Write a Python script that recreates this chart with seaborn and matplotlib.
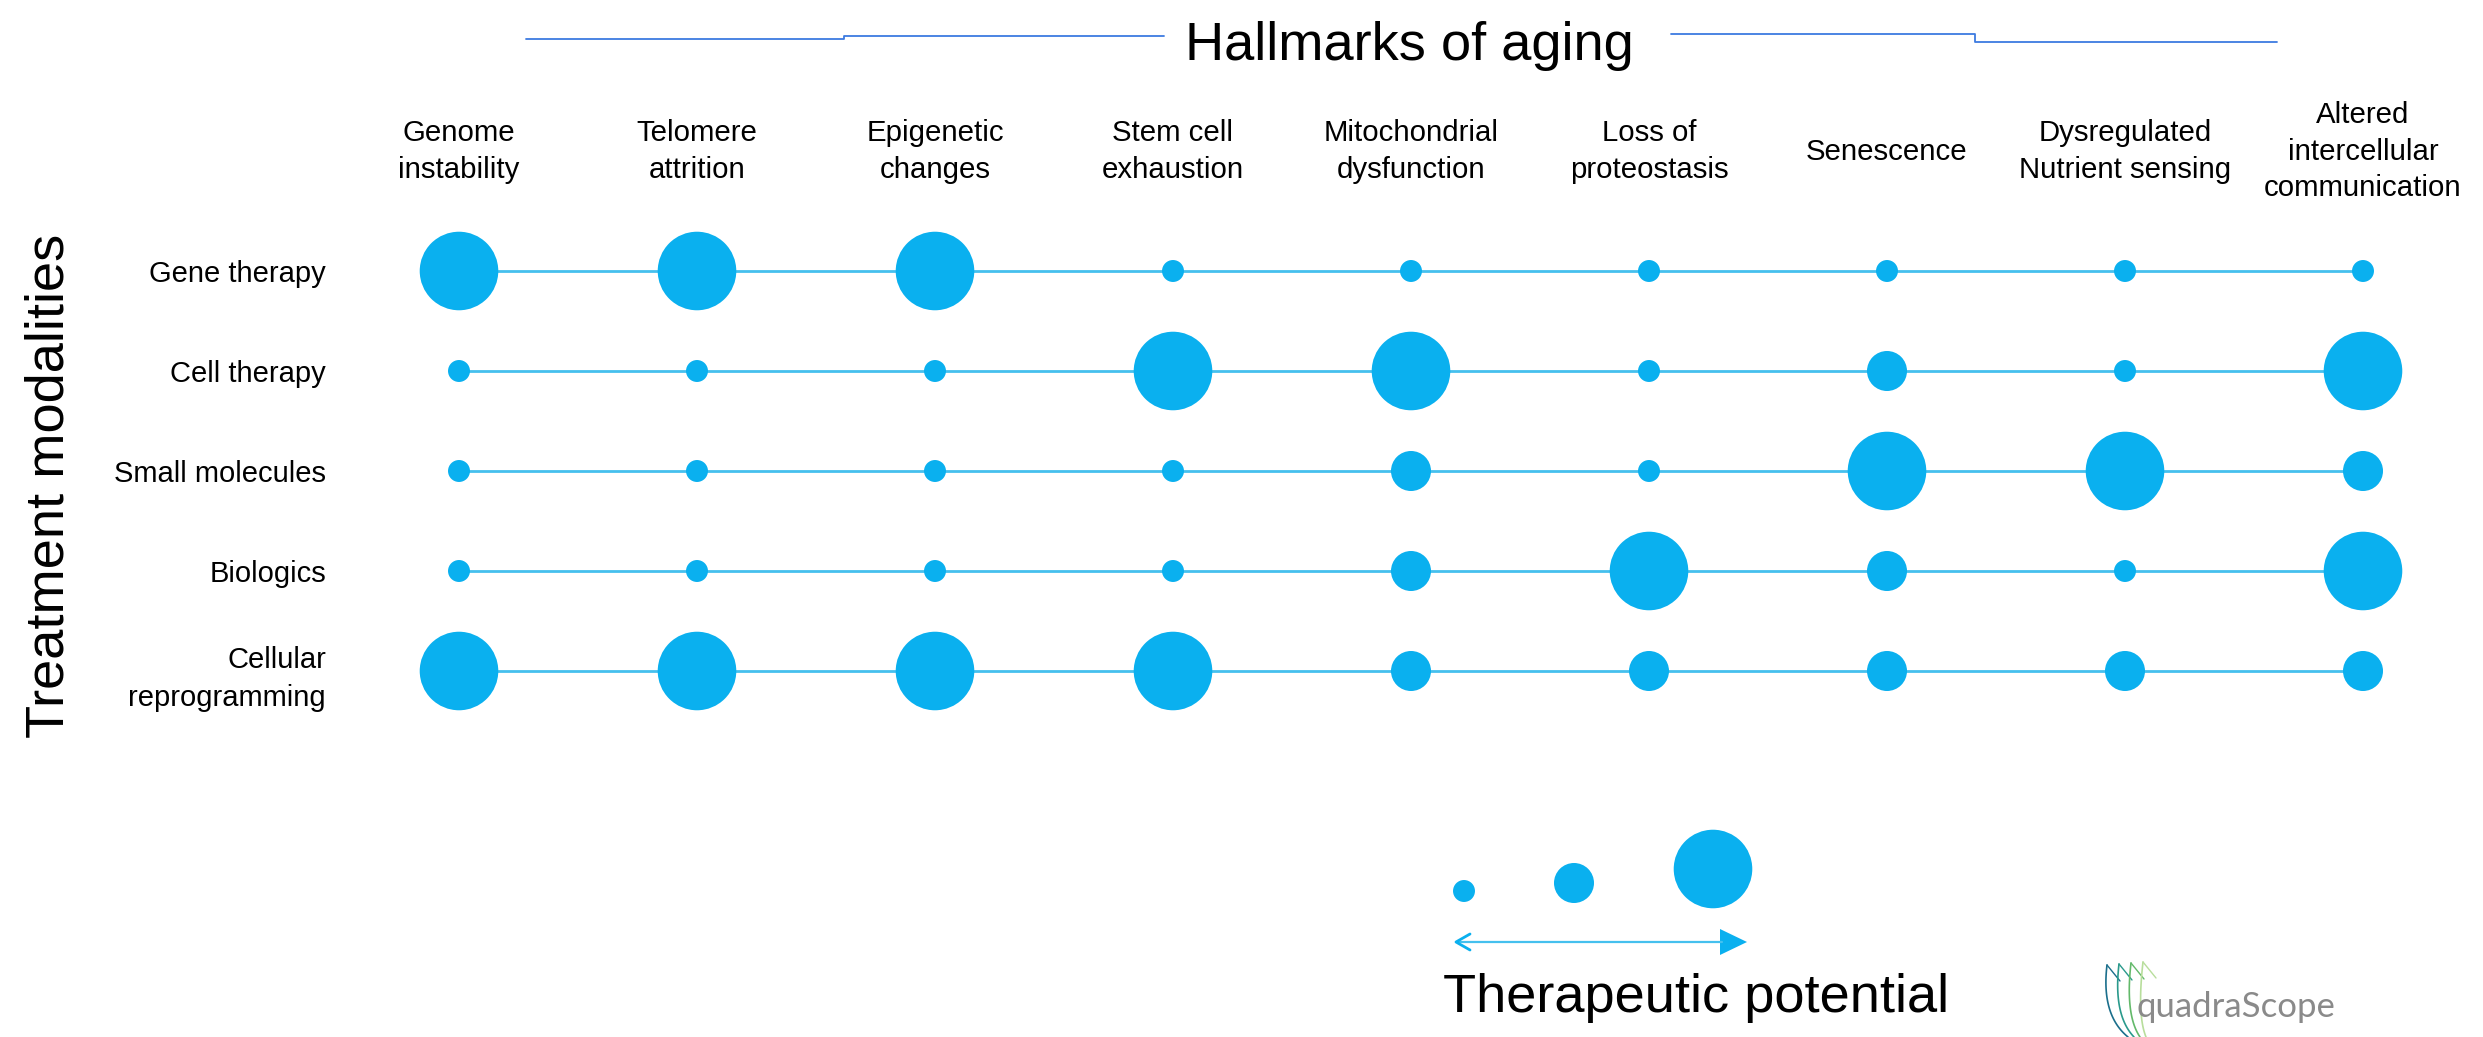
import numpy as np
import pandas as pd
import matplotlib.pyplot as plt
import seaborn as sns
from matplotlib import font_manager

hallmarks = ["Genome\ninstability", "Telomere\nattrition", "Epigenetic\nchanges",
             "Stem cell\nexhaustion", "Mitochondrial\ndysfunction", "Loss of\nproteostasis",
             "Senescence", "Dysregulated\nNutrient sensing", "Altered\nintercellular\ncommunication"]
modalities = ["Gene therapy", "Cell therapy", "Small molecules", "Biologics", "Cellular\nreprogramming"]

# therapeutic potential per hallmark: 1 = low, 2 = medium, 3 = high
gene_therapy = [3, 3, 3, 1, 1, 1, 1, 1, 1]
cell_therapy = [1, 1, 1, 3, 3, 1, 2, 1, 3]
small_molecules = [1, 1, 1, 1, 2, 1, 3, 3, 2]
biologics = [1, 1, 1, 1, 2, 3, 2, 1, 3]
cellular_reprogramming = [3, 3, 3, 3, 2, 2, 2, 2, 2]
legend_levels = [1, 2, 3]

W, H = 2483, 1037
DOT = '#0AB0EF'
LINE = '#45C0EE'
size_map = {1: 250, 2: 830, 3: 3200}

# the original uses a narrow Arial; fall back to Liberation Sans a bit smaller
names = {f.name for f in font_manager.fontManager.ttflist}
narrow = 'Liberation Sans Narrow' if 'Liberation Sans Narrow' in names else 'Liberation Sans'
kb = 1.0 if narrow == 'Liberation Sans Narrow' else 0.85
ks = 1.0 if narrow == 'Liberation Sans Narrow' else 0.88
kr = 1.0 if narrow == 'Liberation Sans Narrow' else 0.84

sns.set_style('white', {'text.color': 'black', 'axes.labelcolor': 'black',
                        'xtick.color': 'black', 'ytick.color': 'black'})
plt.rcParams['font.family'] = [narrow, 'DejaVu Sans']

rows = [gene_therapy, cell_therapy, small_molecules, biologics, cellular_reprogramming]
records = []
for i, m in enumerate(modalities):
    for j, h in enumerate(hallmarks):
        records.append({'modality': m, 'hallmark': h, 'x': j, 'y': i, 'level': rows[i][j]})
df = pd.DataFrame(records)

fig = plt.figure(figsize=(W / 100, H / 100), dpi=100)
ax = fig.add_axes([340 / W, 1 - 721 / H, 2142 / W, 500 / H])

sns.lineplot(data=df, x='x', y='y', units='modality', estimator=None, color=LINE,
             lw=2, zorder=1, ax=ax, legend=False)
sns.scatterplot(data=df, x='x', y='y', size='level', sizes=size_map, color=DOT,
                linewidth=0, zorder=3, ax=ax, legend=False)

ax.set_xlim(-0.5, 8.5)
ax.set_ylim(4.5, -0.5)
ax.set_xticks(range(len(hallmarks)), hallmarks)
ax.xaxis.tick_top()
ax.tick_params(axis='x', length=0, pad=50, labelsize=24 * ks)
for t in ax.get_xticklabels():
    t.set_va('center')
    t.set_linespacing(1.4)
ax.set_yticks(range(len(modalities)), modalities)
ax.tick_params(axis='y', length=0, pad=10, labelsize=25 * kr)
for t in ax.get_yticklabels():
    t.set_linespacing(1.45)
for s in ax.spines.values():
    s.set_visible(False)
ax.set_xlabel('')
ax.set_ylabel('Treatment modalities', fontsize=46 * kb)
ax.yaxis.set_label_coords(-0.1238, 0.47)

# overlay in pixel coordinates for decorations
ov = fig.add_axes([0, 0, 1, 1])
ov.set_xlim(0, W)
ov.set_ylim(H, 0)
ov.axis('off')
ov.patch.set_alpha(0)

ov.text(1409, 60, 'Hallmarks of aging', ha='center', va='baseline', fontsize=46 * kb)
hdr = '#3D7BE0'
ov.plot([526, 844, 844, 1164], [38.5, 38.5, 36, 36], color=hdr, lw=1.3)
ov.plot([1671, 1975, 1975, 2277], [34, 34, 42, 42], color=hdr, lw=1.3)

# size legend
leg = pd.DataFrame({'x': [1464, 1574, 1713], 'y': [891, 883, 869], 'level': legend_levels})
sns.scatterplot(data=leg, x='x', y='y', size='level', sizes=size_map, color=DOT,
                linewidth=0, ax=ov, legend=False)
ov.set_xlabel('')
ov.set_ylabel('')
ov.plot([1458, 1722], [942, 942], color=LINE, lw=1.6)
ov.fill([1720, 1747, 1720], [929, 942, 955], color=DOT, lw=0)
ov.plot([1470, 1456, 1470], [934, 942, 950], color=DOT, lw=2)
ov.text(1443, 1012, 'Therapeutic potential', ha='left', va='baseline', fontsize=46 * kb)

# logo
logo_cols = ['#1B6F8C', '#2A9A8C', '#63B96A', '#B8DE9C']
for i, c in enumerate(logo_cols):
    px, py = 2107 + 12 * i, 965 - 1 * i
    t = np.linspace(0, 1, 40)
    bx, by = 2128 + 6 * i, 1037
    cx, cy = px - 6, 1015
    xs = (1 - t) ** 2 * px + 2 * (1 - t) * t * cx + t ** 2 * bx
    ys = (1 - t) ** 2 * py + 2 * (1 - t) * t * cy + t ** 2 * by
    ov.plot(xs, ys, color=c, lw=1.2)
    ov.plot([px, px + 13], [py, py + 16], color=c, lw=1.0)
ov.text(2137, 1017, 'quadraScope', ha='left', va='baseline', fontsize=25,
        color='#8A8A8A', family=['Lato', 'DejaVu Sans'])

fig.savefig('out.png', dpi=100)
